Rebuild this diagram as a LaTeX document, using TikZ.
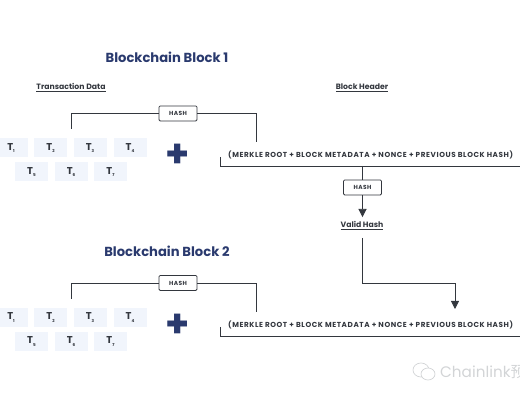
\documentclass[tikz,border=0pt]{standalone}
\usepackage{fontspec}
\setmainfont{Poppins}
\newfontfamily\cjkfont{Noto Sans CJK SC}
\usepackage{xcolor}
\usetikzlibrary{arrows.meta,positioning,calc}
\definecolor{ChainNavy}{HTML}{2A3A6E}
\definecolor{ChainDark}{HTML}{33373E}
\definecolor{ChainTile}{HTML}{F1F5FC}
\definecolor{ChainMark}{HTML}{D2D4D6}
\newlength{\pxunit}
\setlength{\pxunit}{0.03cm}
\tikzset{
  tile/.style={fill=ChainTile,minimum width=33\pxunit,minimum height=19\pxunit,inner sep=0pt,font=\fontsize{8.5}{8}\selectfont\bfseries,text=ChainDark},
  hashbox/.style={draw=ChainDark,fill=white,rounded corners=1pt,line width=0.7pt,minimum width=38\pxunit,minimum height=15\pxunit,inner sep=0pt,font=\fontsize{5}{5}\selectfont\bfseries\addfontfeatures{LetterSpace=8},text=ChainDark},
  wire/.style={ChainDark,line width=0.7pt},
  arrowwire/.style={wire,-{Stealth[length=7pt,width=7pt,inset=0pt]}},
  heading/.style={font=\fontsize{11.2}{12}\selectfont\bfseries,text=ChainNavy},
  sublabel/.style={font=\fontsize{6.6}{8}\selectfont\bfseries,text=ChainDark},
  formula/.style={inner sep=0pt,font=\fontsize{6.2}{6}\selectfont\bfseries\addfontfeatures{LetterSpace=8},text=ChainDark},
  plussign/.style={font=\fontsize{33}{33}\selectfont\bfseries,text=ChainNavy,inner sep=0pt}
}
\begin{document}
\begin{tikzpicture}[x=0.03cm,y=-0.03cm]
\useasboundingbox[clip] (0,0) rectangle (520,400);
% first block
\node[heading] (title1) at (167,57) {Blockchain Block 1};
\node[sublabel] (txdata) at (71,88) {\underline{Transaction Data}};
\node[sublabel] (header) at (362,88) {\underline{Block Header}};
\node[hashbox] (hash1) at (178,113.5) {HASH};
\foreach \i/\px/\py in {1/11/148,2/50.5/148,3/90/148,4/130/148,5/31.5/172,6/71/172,7/110.5/172}
  \node[tile] (a\i) at (\px,\py) {T\raisebox{-2pt}{\fontsize{3.5}{4}\selectfont\i}};
\node[plussign] (plus1) at (177.5,156) {+};
\node[formula,anchor=west] (sum1) at (228,154.5) {(MERKLE ROOT + BLOCK METADATA + NONCE + PREVIOUS BLOCK HASH)};
\coordinate (left1) at (71,129);
\coordinate (right1) at (256,142);
\draw[wire] (hash1.west) -| (left1);
\draw[wire] (hash1.east) -| (right1);
\coordinate (brace1a) at (220,157);
\coordinate (brace1b) at (220,166);
\coordinate (brace1c) at (520,166);
\draw[wire] (brace1a)--(brace1b)--(brace1c);
\node[hashbox] (hash2) at (362.5,187.5) {HASH};
\coordinate (tap1) at (hash2.north |- brace1b);
\node[sublabel] (valid) at (362,225.5) {\underline{Valid Hash}};
\draw[wire] (tap1)--(hash2.north);
\draw[arrowwire] (hash2.south)--(hash2.south |- valid.north);
% second block
\node[heading] (title2) at (167,251) {Blockchain Block 2};
\node[hashbox] (hash3) at (178,283) {HASH};
\foreach \i/\px/\py in {1/11/317.5,2/50.5/317.5,3/90/317.5,4/130/317.5,5/31.5/341.5,6/71/341.5,7/110.5/341.5}
  \node[tile] (b\i) at (\px,\py) {T\raisebox{-2pt}{\fontsize{3.5}{4}\selectfont\i}};
\node[plussign] (plus2) at (177.5,326) {+};
\node[formula,anchor=west] (sum2) at (228,324.5) {(MERKLE ROOT + BLOCK METADATA + NONCE + PREVIOUS BLOCK HASH)};
\coordinate (left2) at (71,299);
\coordinate (right2) at (256,312);
\draw[wire] (hash3.west) -| (left2);
\draw[wire] (hash3.east) -| (right2);
\coordinate (brace2a) at (220,327);
\coordinate (brace2b) at (220,336);
\coordinate (brace2c) at (520,336);
\draw[wire] (brace2a)--(brace2b)--(brace2c);
% valid hash goes on to block 2
\coordinate (out) at (362.5,238);
\coordinate (bend) at (362.5,283);
\coordinate (into) at (455,309);
\draw[arrowwire] (out)--(bend)-|(into);
% watermark
\draw[ChainMark,line width=0.6pt] (421,370) ellipse (8 and 7);
\draw[ChainMark,line width=0.6pt,fill=white] (428,374) ellipse (7 and 6);
\node[anchor=west,inner sep=0pt,text=ChainMark,font=\fontsize{13}{13}\selectfont] (mark) at (440,372) {Chainlink{\cjkfont 预}};
\end{tikzpicture}
\end{document}
